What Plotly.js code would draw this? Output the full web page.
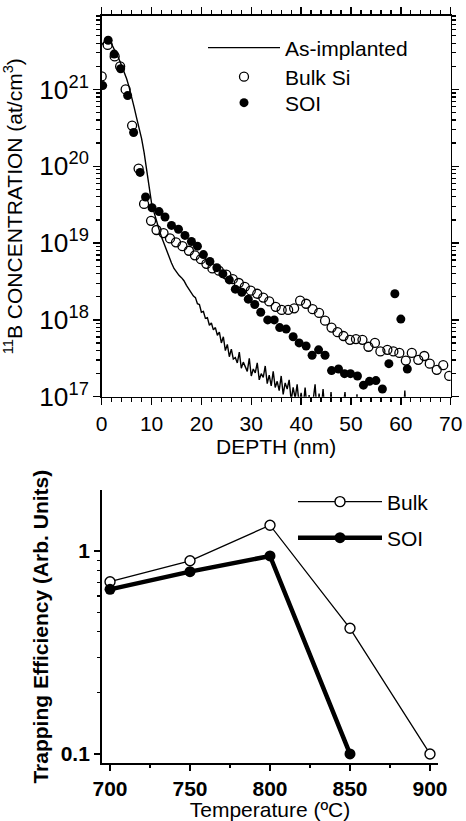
<!DOCTYPE html>
<html>
<head>
<meta charset="utf-8">
<script src="https://cdn.plot.ly/plotly-3.0.1.min.js"></script>
<style>html,body{margin:0;padding:0;background:#fff;}#chart{width:466px;height:821px;}</style>
</head>
<body>
<div id="chart"></div>
<script>
// ---- Top panel: SIMS depth profiles (concentration stored as log10 values) ----
const implDepth = [0.0,0.5,1.0,1.5,2.0,2.5,3.0,3.5,4.0,4.5,5.0,5.5,6.0,6.5,7.0,7.5,8.0,8.5,9.0,9.5,10.0,10.5,11.0,11.5,12.0,12.5,13.0,13.5,14.0,14.5,15.0,15.5,16.0,16.5,17.0,17.5,18.0,
 18.4,18.8,19.2,19.6,20.0,20.4,20.8,21.2,21.6,22.0,22.4,22.8,23.2,23.6,24.0,24.4,24.8,25.2,25.6,26.0,26.4,26.8,27.2,27.6,28.0,28.4,28.8,29.2,29.6,30.0,30.4,30.8,31.2,31.6,32.0,32.4,32.8,33.2,33.6,34.0,34.4,34.8,35.2,35.6,36.0,36.4,36.8,37.2,37.6,38.0,38.4,38.8,39.2,39.6,40.0,
 40.4,40.8,41.2,41.6,42.0,42.4,42.8,43.2,43.6,44.0,44.4,44.8,45.2,45.6,46.0,46.4,46.8,47.2,47.6,48.0,48.4,48.8,49.2,49.6,50.0,50.4,50.8,51.2,51.6,52.0,52.4,52.8,53.2,53.6,54.0,54.4,54.8,55.2,55.6,56.0,56.4,56.8,57.2,57.6,58.0,58.4,58.8,59.2,59.6,60.0,60.4,60.8,61.2,61.6,62.0];
const implLog = [21.58,21.62,21.64,21.63,21.59,21.53,21.46,21.39,21.31,21.23,21.14,21.03,20.91,20.77,20.63,20.50,20.36,20.18,19.96,19.72,19.52,19.40,19.28,19.18,19.08,18.99,18.90,18.82,18.74,18.67,18.62,18.58,18.55,18.51,18.45,18.40,18.34,
 18.31,18.29,18.21,18.20,18.10,18.11,18.02,18.03,17.93,17.96,17.87,17.90,17.80,17.84,17.70,17.78,17.60,17.68,17.52,17.62,17.49,17.51,17.44,17.58,17.37,17.45,17.40,17.33,17.50,17.27,17.36,17.31,17.44,17.22,17.30,17.25,17.40,17.17,17.28,17.14,17.33,17.12,17.20,17.08,17.27,17.03,17.18,17.10,17.22,16.95,17.12,16.98,17.16,16.90,17.05,
 16.86,17.12,16.84,17.02,16.80,16.95,17.16,16.78,17.04,16.80,17.10,16.76,16.92,16.74,17.06,16.72,16.88,16.70,16.96,16.70,16.84,17.06,16.68,16.80,16.66,16.88,16.65,17.03,16.64,16.78,16.62,16.82,16.60,16.74,16.60,16.70,16.58,16.68,16.57,16.76,16.56,16.64,16.55,16.99,16.55,16.70,16.54,16.66,16.53,16.70,16.52,17.08,16.52,16.60,16.50];

const bulkDepth = [0.0,1.2,2.6,3.7,4.8,6.1,7.4,8.5,9.9,11.0,12.4,13.7,14.9,16.2,17.5,18.7,19.9,21.0,22.2,23.5,25.0,26.3,27.5,28.7,29.9,31.2,32.4,33.6,34.9,36.1,37.4,38.6,39.8,41.0,42.3,43.6,44.8,46.1,47.3,48.5,49.8,51.0,52.3,53.5,54.8,55.9,57.3,58.5,59.7,61.0,62.2,63.5,64.7,65.8,67.2,68.5,69.7];
const bulkLog = [21.17,21.58,21.43,21.30,21.00,20.53,19.97,19.51,19.29,19.17,19.13,19.06,19.01,18.96,18.90,18.84,18.79,18.73,18.67,18.64,18.59,18.53,18.48,18.43,18.38,18.34,18.29,18.24,18.17,18.13,18.13,18.15,18.25,18.21,18.14,18.09,17.99,17.90,17.84,17.79,17.74,17.75,17.74,17.65,17.70,17.59,17.61,17.59,17.57,17.47,17.57,17.48,17.53,17.43,17.35,17.41,17.27];

const soiDepth = [0.2,1.3,2.5,3.8,5.2,6.4,7.7,8.8,10.1,11.5,12.7,14.0,15.4,16.7,18.0,19.2,20.4,21.7,23.1,24.3,25.6,26.8,28.1,29.4,30.7,31.9,33.3,34.6,35.7,37.0,38.4,39.6,41.0,42.2,43.5,44.8,46.1,47.5,48.7,49.9,51.3,52.5,53.7,55.0,56.3,57.6,58.8,60.0,61.3];
const soiLog = [21.05,21.64,21.46,21.27,20.92,20.44,19.92,19.60,19.46,19.41,19.34,19.23,19.18,19.10,19.02,18.96,18.85,18.76,18.68,18.60,18.52,18.40,18.36,18.27,18.20,18.10,18.00,18.00,17.90,17.88,17.78,17.70,17.66,17.54,17.61,17.54,17.34,17.36,17.30,17.30,17.27,17.15,17.20,17.21,17.10,17.43,18.34,18.01,17.36];

// ---- Bottom panel: trapping efficiency ----
const temps = [700, 750, 800, 850, 900];
const bulkEff = [0.706, 0.895, 1.34, 0.416, 0.100];
const soiTemps = [700, 750, 800, 850];
const soiEff = [0.647, 0.791, 0.945, 0.100];

const effTickVals = [0.1, 1];
const effTickText = ['0.1', '1'];
const effMinorTicks = [0.2,0.3,0.4,0.5,0.6,0.7,0.8,0.9,2];

const toConc = a => a.map(v => Math.pow(10, v));
const FONT = 'Arial, "Liberation Sans", sans-serif';

const traces = [
  {x: implDepth, y: toConc(implLog), xaxis:'x', yaxis:'y', type:'scatter', mode:'lines', name:'As-implanted',
   line:{color:'black', width:1.4}, legend:'legend'},
  {x: bulkDepth, y: toConc(bulkLog), xaxis:'x', yaxis:'y', type:'scatter', mode:'markers', name:'Bulk Si',
   marker:{symbol:'circle-open', size:9, color:'black', line:{color:'black', width:1.3}}, legend:'legend2'},
  {x: soiDepth, y: toConc(soiLog), xaxis:'x', yaxis:'y', type:'scatter', mode:'markers', name:'SOI',
   marker:{symbol:'circle', size:9, color:'black'}, legend:'legend3'},
  {x: temps, y: bulkEff, xaxis:'x2', yaxis:'y2', type:'scatter', mode:'lines+markers', name:'Bulk',
   line:{color:'black', width:1.3}, marker:{symbol:'circle', size:10, color:'white', line:{color:'black', width:1.4}}, legend:'legend4'},
  {x: soiTemps, y: soiEff, xaxis:'x2', yaxis:'y2', type:'scatter', mode:'lines+markers', name:'SOI',
   line:{color:'black', width:4.5}, marker:{symbol:'circle', size:11, color:'black'}, legend:'legend5'}
];

const W = 466, H = 821;
const px = v => v / W, py = v => 1 - v / H;

const legendBase = (x, y, iw) => ({x: px(x), y: py(y), xanchor:'left', yanchor:'middle', bgcolor:'rgba(0,0,0,0)',
  borderwidth:0, itemwidth: iw, font:{family:FONT, size:21, color:'black'}});

const axCommon = {showline:true, linecolor:'black', linewidth:1.6, ticks:'outside', tickcolor:'black', tickwidth:1.5,
  showgrid:false, zeroline:false, tickfont:{family:FONT, size:21, color:'black'}};

const layout = {
  width: W, height: H, margin:{l:0, r:0, t:0, b:0}, paper_bgcolor:'white', plot_bgcolor:'rgba(0,0,0,0)',
  font:{family:FONT, size:21, color:'black'}, showlegend:true,
  xaxis: Object.assign({}, axCommon, {domain:[px(101.7), px(450.7)], anchor:'y', range:[0,70], tickmode:'linear', tick0:0, dtick:10, ticklen:7,
    mirror:'allticks', minor:{tickmode:'linear', dtick:2, tick0:0, ticks:'outside', ticklen:4, tickwidth:1.3, tickcolor:'black', showgrid:false},
    title:{text:'DEPTH (nm)', standoff:6, font:{family:FONT, size:21, color:'black'}}}),
  yaxis: Object.assign({}, axCommon, {domain:[py(396.7), py(15.7)], anchor:'x', type:'log', range:[17, 21.96], dtick:1, exponentformat:'power', ticklen:7,
    mirror:'allticks', minor:{dtick:'D1', ticks:'outside', ticklen:4, tickwidth:1.3, tickcolor:'black', showgrid:false},
    title:{text:'<sup>11</sup>B CONCENTRATION (at/cm<sup>3</sup>)', standoff:16, font:{family:FONT, size:21, color:'black'}}}),
  xaxis2: Object.assign({}, axCommon, {domain:[px(101.7), px(438.3)], anchor:'y2', range:[694.8, 905.2], tickmode:'linear', tick0:700, dtick:50, ticklen:6,
    tickfont:{family:FONT, size:21, color:'black', weight:'bold'},
    minor:{tickmode:'linear', dtick:25, tick0:700, ticks:'outside', ticklen:3, tickwidth:1.3, tickcolor:'black', showgrid:false},
    title:{text:'Temperature (\u00BAC)', standoff:0, font:{family:FONT, size:21, color:'black'}}}),
  yaxis2: Object.assign({}, axCommon, {domain:[py(763.3), py(490)], anchor:'x2', type:'log', range:[-1.046, 0.3005],
    tickmode:'array', tickvals:effTickVals, ticktext:effTickText, ticklen:6,
    tickfont:{family:FONT, size:21, color:'black', weight:'bold'},
    minor:{tickmode:'array', tickvals:effMinorTicks, ticks:'outside', ticklen:3, tickwidth:1.1, tickcolor:'black', showgrid:false},
    title:{text:'Trapping Efficiency (Arb. Units)', standoff:6, font:{family:FONT, size:21, color:'black', weight:'bold'}}}),
  legend: legendBase(203, 48, 72),
  legend2: legendBase(203, 77, 72),
  legend3: legendBase(203, 103, 72),
  legend4: legendBase(293, 502, 84),
  legend5: legendBase(293, 538, 84)
};

Plotly.newPlot('chart', traces, layout, {displayModeBar:false, staticPlot:true});
</script>
</body>
</html>
